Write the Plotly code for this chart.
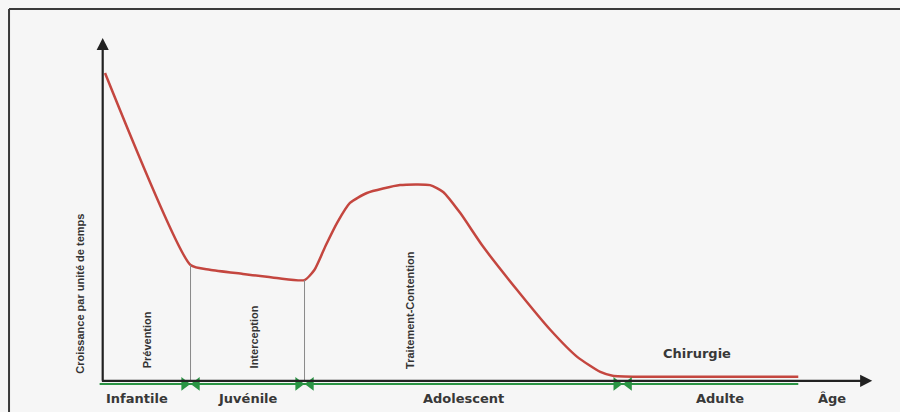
import numpy as np
import plotly.graph_objects as go

# ---- data (age units 0-100, growth units 0-100) ----
age = [0.3, 11.4, 13.9, 18.2, 22.6, 26.2, 27.5, 29.0, 30.5, 32.1, 34.3, 38.6, 42.5, 44.2,
       46.4, 49.4, 53.8, 58.1, 61.6, 64.6, 66.2, 69.7, 90.3]
growth = [89.8, 33.8, 32.4, 31.2, 30.0, 29.4, 32.4, 39.7, 46.4, 51.9, 54.8, 57.1, 57.1, 55.1,
          49.0, 39.1, 26.5, 14.9, 7.0, 2.6, 1.5, 1.2, 1.2]

divider_ages = [11.4, 26.2]            # vertical separators under the curve
phase_bounds = [11.4, 26.2, 67.5]      # green bow-tie markers on the age axis
phase_names = ["Infantile", "Juvénile", "Adolescent", "Adulte"]
phase_label_x = [4.4, 18.8, 46.8, 80.1]
treat_names = ["Prévention", "Interception", "Traitement-Contention"]
treat_x = [5.7, 19.7, 39.9]
treat_y = [12.0, 12.8, 20.7]
green_span = [-0.4, 90.3]

RED = "#c4463f"
GREEN = "#2a9444"
DARK = "#222222"

fig = go.Figure()

# growth curve
fig.add_trace(go.Scatter(x=age, y=growth, mode="lines",
                         line=dict(color=RED, width=2.5, shape="spline", smoothing=0.55),
                         hoverinfo="skip"))

# vertical dividers
for a in divider_ages:
    top = float(np.interp(a, age, growth))
    fig.add_trace(go.Scatter(x=[a, a], y=[0, top], mode="lines",
                             line=dict(color="#8a8a8a", width=1), hoverinfo="skip"))

# green age line
fig.add_trace(go.Scatter(x=green_span, y=[-0.9, -0.9], mode="lines",
                         line=dict(color=GREEN, width=2), hoverinfo="skip"))

# bow-tie markers
fig.add_trace(go.Scatter(x=[b - 0.8 for b in phase_bounds], y=[-0.9] * len(phase_bounds),
                         mode="markers", cliponaxis=False,
                         marker=dict(symbol="triangle-right", size=12, color=GREEN),
                         hoverinfo="skip"))
fig.add_trace(go.Scatter(x=[b + 0.8 for b in phase_bounds], y=[-0.9] * len(phase_bounds),
                         mode="markers", cliponaxis=False,
                         marker=dict(symbol="triangle-left", size=12, color=GREEN),
                         hoverinfo="skip"))

ann = []
# axes arrows
ann.append(dict(x=0, y=100, ax=0, ay=-0.3, xref="x", yref="y", axref="x", ayref="y",
                showarrow=True, arrowhead=2, arrowsize=1.1, arrowwidth=2.2, arrowcolor=DARK, text=""))
ann.append(dict(x=99.9, y=0, ax=-0.3, ay=0, xref="x", yref="y", axref="x", ayref="y",
                showarrow=True, arrowhead=2, arrowsize=1.1, arrowwidth=2.2, arrowcolor=DARK, text=""))

bold = dict(family="DejaVu Sans", size=13, color="#383838")
for name, x in zip(phase_names, phase_label_x):
    ann.append(dict(x=x, y=-5, xref="x", yref="y", text="<b>%s</b>" % name, showarrow=False,
                    font=bold, xanchor="center", yanchor="middle"))
ann.append(dict(x=94.7, y=-5, xref="x", yref="y", text="<b>Âge</b>", showarrow=False,
                font=bold, xanchor="center", yanchor="middle"))
ann.append(dict(x=77.1, y=7.9, xref="x", yref="y", text="<b>Chirurgie</b>", showarrow=False,
                font=bold, xanchor="center", yanchor="middle"))

vfont = dict(family="Liberation Sans", size=11, color="#333333")
for name, x, y in zip(treat_names, treat_x, treat_y):
    ann.append(dict(x=x, y=y, xref="x", yref="y", text="<b>%s</b>" % name, showarrow=False,
                    textangle=-90, font=vfont, xanchor="center", yanchor="middle"))
ann.append(dict(x=-0.0193, y=25.4, xref="paper", yref="y", text="<b>Croissance par unité de temps</b>",
                showarrow=False, textangle=-90, font=vfont, xanchor="center", yanchor="middle"))

shapes = [
    dict(type="line", xref="paper", yref="paper", x0=-0.1105, x1=1.06, y0=1.0806, y1=1.0806,
         line=dict(color="#3a3a3a", width=2)),
    dict(type="line", xref="paper", yref="paper", x0=-0.1105, x1=-0.1105, y0=1.0806, y1=-0.05,
         line=dict(color="#3a3a3a", width=2)),
]

fig.update_layout(
    width=900, height=412,
    margin=dict(l=95, r=27, t=38, b=14),
    paper_bgcolor="#f6f6f6", plot_bgcolor="#f6f6f6",
    showlegend=False,
    xaxis=dict(range=[-1, 100], visible=False, fixedrange=True),
    yaxis=dict(range=[-5, 100], visible=False, fixedrange=True),
    annotations=ann, shapes=shapes,
)

fig.write_html("out.html", config={"displayModeBar": False},
               post_script="document.body.style.margin='0px';document.body.style.overflow='hidden';")
